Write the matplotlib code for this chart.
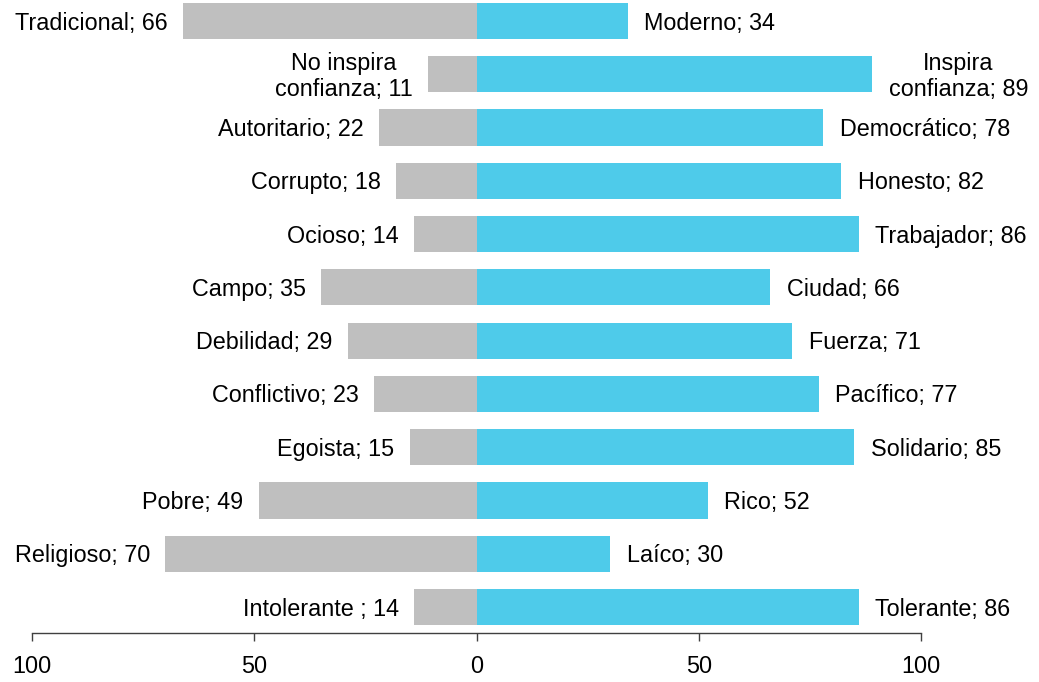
import matplotlib
matplotlib.use("Agg")
import matplotlib.pyplot as plt

# left (negative) attribute and share, right (positive) attribute and share
left_labels = ['Tradicional', 'No inspira\nconfianza', 'Autoritario', 'Corrupto', 'Ocioso',
               'Campo', 'Debilidad', 'Conflictivo', 'Egoista', 'Pobre', 'Religioso',
               'Intolerante ']
left_values = [66, 11, 22, 18, 14, 35, 29, 23, 15, 49, 70, 14]
right_labels = ['Moderno', 'Inspira\nconfianza', 'Democrático', 'Honesto', 'Trabajador',
                'Ciudad', 'Fuerza', 'Pacífico', 'Solidario', 'Rico', 'Laíco', 'Tolerante']
right_values = [34, 89, 78, 82, 86, 66, 71, 77, 85, 52, 30, 86]
tick_vals = [-100, -50, 0, 50, 100]
tick_labels = ['100', '50', '0', '50', '100']

plt.rcParams['font.family'] = ['Liberation Sans', 'DejaVu Sans']

fig = plt.figure(figsize=(10.39, 6.82), dpi=100)
ax = fig.add_axes([32 / 1039, 49 / 682, 889 / 1039, 633 / 682])

gray = '#BFBFBF'
cyan = '#4ECBEA'
ypos = list(range(len(left_values)))

ax.barh(ypos, [-v for v in left_values], height=0.68, color=gray, linewidth=0)
ax.barh(ypos, right_values, height=0.68, color=cyan, linewidth=0)

fs = 16.8
for y, lab, v in zip(ypos, left_labels, left_values):
    ax.annotate(f'{lab}; {v}', xy=(-v, y), xytext=(-11, -1.5), textcoords='offset points',
                ha='right', va='center', multialignment='center', fontsize=fs,
                linespacing=1.15)
for y, lab, v in zip(ypos, right_labels, right_values):
    ax.annotate(f'{lab}; {v}', xy=(v, y), xytext=(12, -1.5), textcoords='offset points',
                ha='left', va='center', multialignment='center', fontsize=fs,
                linespacing=1.15)

ax.set_xlim(-100, 100)
ax.set_ylim(11.488, -0.394)
ax.set_xticks(tick_vals)
ax.set_xticklabels(tick_labels, fontsize=fs)
ax.set_yticks([])
for s in ['top', 'right', 'left']:
    ax.spines[s].set_visible(False)
ax.spines['bottom'].set_color('#404040')
ax.spines['bottom'].set_linewidth(1.0)
ax.tick_params(axis='x', length=6, width=1.0, color='#404040', pad=10)
ax.set_facecolor('none')

fig.savefig('out.png', dpi=100)
